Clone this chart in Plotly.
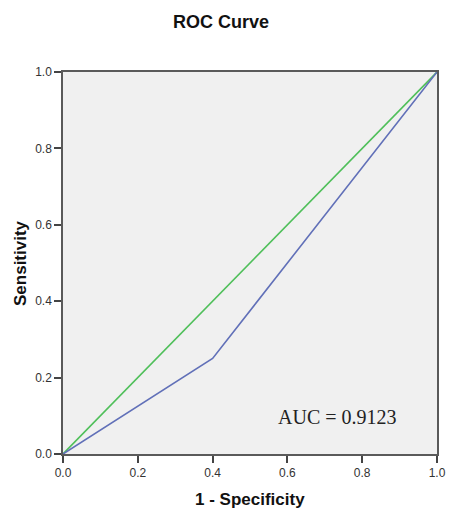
import plotly.graph_objects as go

# Data
roc_fpr = [0.0, 0.4, 1.0]
roc_tpr = [0.0, 0.25, 1.0]
ref_fpr = [0.0, 1.0]
ref_tpr = [0.0, 1.0]
tick_vals = [0.0, 0.2, 0.4, 0.6, 0.8, 1.0]
tick_text = ["0.0", "0.2", "0.4", "0.6", "0.8", "1.0"]
auc_label = "AUC = 0.9123"

W, H = 456, 511
L, R, T, B = 55, 27, 64, 65
PW, PH = W - L - R, H - T - B

fig = go.Figure()
fig.add_trace(go.Scatter(x=ref_fpr, y=ref_tpr, mode="lines",
                         line=dict(color="#4fbf5a", width=1.6), showlegend=False))
fig.add_trace(go.Scatter(x=roc_fpr, y=roc_tpr, mode="lines",
                         line=dict(color="#6170b8", width=1.6), showlegend=False))

fig.add_annotation(x=0.735, y=0.096, xref="x", yref="y", text=auc_label,
                   showarrow=False, font=dict(family="Liberation Serif", size=20, color="#222"))

fig.add_annotation(x=(12 - L) / PW, y=0.5, xref="paper", yref="paper",
                   text="<b>Sensitivity</b>", textangle=-90, showarrow=False,
                   xanchor="center", yanchor="middle",
                   font=dict(family="Liberation Sans", size=17, color="#111"))
fig.add_annotation(x=0.5, y=-45 / PH, xref="paper", yref="paper",
                   text="<b>1 - Specificity</b>", showarrow=False,
                   xanchor="center", yanchor="middle",
                   font=dict(family="Liberation Sans", size=17, color="#111"))

axis_common = dict(range=[0, 1], tickvals=tick_vals, ticktext=tick_text,
                   ticks="outside", ticklen=7, tickwidth=1.5, tickcolor="#444",
                   showline=True, linecolor="#5a5a5a", linewidth=1.5, mirror=True,
                   showgrid=False, zeroline=False,
                   tickfont=dict(family="Liberation Sans", size=12, color="#333"))

fig.update_layout(
    width=W, height=H,
    margin=dict(l=L, r=R, t=T, b=B),
    paper_bgcolor="white", plot_bgcolor="#f0f0f0",
    title=dict(text="<b>ROC Curve</b>", x=213 / W, xanchor="center", y=1 - 14 / H, yanchor="middle",
               font=dict(family="Liberation Sans", size=18, color="#111")),
    xaxis=dict(**axis_common),
    yaxis=dict(**axis_common),
)

fig.write_html("out.html")
